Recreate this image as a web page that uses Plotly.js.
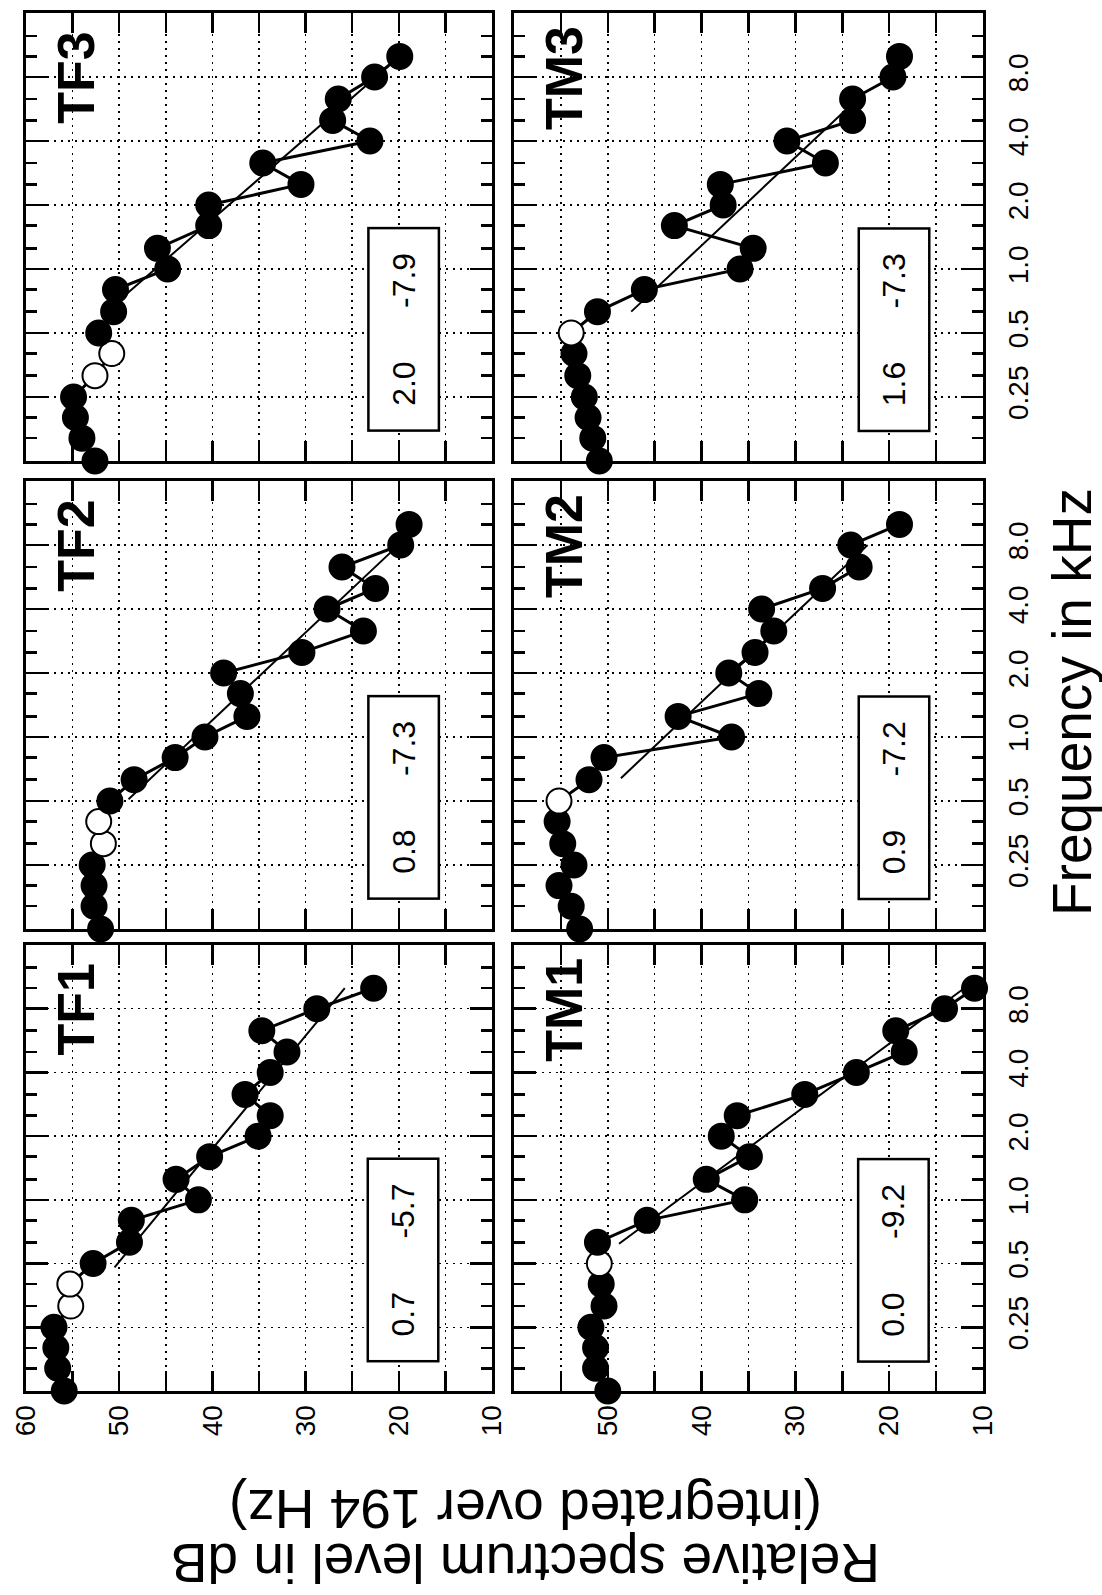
<!DOCTYPE html>
<html><head><meta charset="utf-8">
<script src="https://cdn.plot.ly/plotly-3.0.1.min.js"></script>
<style>html,body{margin:0;padding:0;background:#fff}#chart{width:1102px;height:1595px}</style>
</head><body><div id="chart"></div>
<script>
// 1/3-octave band centre frequencies (kHz)
const freqKHz = [0.125,0.16,0.2,0.25,0.315,0.4,0.5,0.63,0.8,1.0,1.25,1.6,2.0,2.5,3.15,4.0,5.0,6.3,8.0,10.0];

const panelNames = ['TF3','TM3','TF2','TM2','TF1','TM1'];

// relative spectrum level (dB) per band
const levelTF3 = [52.6,54.0,54.7,54.9,52.6,50.8,52.2,50.6,50.4,44.8,45.9,40.4,40.4,30.5,34.6,23.1,27.1,26.5,22.6,19.9];
const levelTM3 = [50.9,51.6,52.1,52.5,53.2,53.6,53.9,51.1,46.1,35.9,34.5,42.9,37.7,38.0,26.8,30.9,23.9,23.9,19.6,18.9];
const levelTF2 = [52.0,52.7,52.7,52.9,51.7,52.2,51.0,48.4,44.0,40.8,36.3,37.0,38.8,30.4,23.8,27.7,22.5,26.1,19.8,18.9];
const levelTM2 = [53.0,53.9,55.2,53.6,54.8,55.4,55.2,52.0,50.4,36.8,42.5,33.9,37.1,34.3,32.3,33.6,27.1,23.2,24.1,18.9];
const levelTF1 = [55.9,56.6,56.8,57.0,55.2,55.3,52.8,48.9,48.7,41.5,43.9,40.3,35.1,33.8,36.5,33.8,32.0,34.7,28.8,22.7];
const levelTM1 = [50.0,51.3,51.3,51.8,50.4,50.7,50.9,51.1,45.8,35.4,39.5,34.9,37.9,36.2,29.0,23.5,18.4,19.3,14.1,10.9];

// band indices drawn as open circles
const openTF3 = [4,5];
const openTM3 = [6];
const openTF2 = [4,5];
const openTM2 = [6];
const openTF1 = [4,5];
const openTM1 = [6];

// regression line end points (kHz, dB)
const fitFreqTF3 = [0.70, 9.0];  const fitLevelTF3 = [50.2, 21.1];
const fitFreqTM3 = [0.63, 5.4];  const fitLevelTM3 = [47.5, 25.0];
const fitFreqTF2 = [0.51, 9.0];  const fitLevelTF2 = [49.0, 18.8];
const fitFreqTM2 = [0.64, 8.0];  const fitLevelTM2 = [48.6, 22.3];
const fitFreqTF1 = [0.48, 10.0]; const fitLevelTF1 = [50.5, 25.8];
const fitFreqTM1 = [0.62, 10.0]; const fitLevelTM1 = [48.8, 12.0];

// numbers in the boxes
const boxFirst = ['2.0','1.6','0.8','0.9','0.7','0.0'];
const boxSlope = ['-7.9','-7.3','-7.3','-7.2','-5.7','-9.2'];

// tick labels
const dbTickVals = [60,55,50,45,40,35,30,25,20,15,10];
const dbTickTextTF = ['60','','50','','40','','30','','20','','10'];
const dbTickTextTM = ['','','50','','40','','30','','20','','10'];
const freqTickVals = [0.25,0.5,1,2,4,8];
const freqTickText = ['0.25','0.5','1.0','2.0','4.0','8.0'];
const freqMinorVals = [0.16,0.2,0.315,0.4,0.63,0.8,1.25,1.6,2.5,3.15,5,6.3,10,12.5];

const levels = [levelTF3, levelTM3, levelTF2, levelTM2, levelTF1, levelTM1];
const opens = [openTF3, openTM3, openTF2, openTM2, openTF1, openTM1];
const fitF = [fitFreqTF3, fitFreqTM3, fitFreqTF2, fitFreqTM2, fitFreqTF1, fitFreqTM1];
const fitL = [fitLevelTF3, fitLevelTM3, fitLevelTF2, fitLevelTM2, fitLevelTF1, fitLevelTM1];

const FONT = 'Liberation Sans, Arial, Helvetica, sans-serif';
const colDom = [[0.0236, 0.4465], [0.4664, 0.8920]];
const rowDom = [[0.7110, 0.99185], [0.41755, 0.69843], [0.12790, 0.40752]];

const traces = [];
const layout = {
  width: 1102, height: 1595,
  margin: {l: 0, r: 0, t: 0, b: 0},
  paper_bgcolor: '#fff', plot_bgcolor: '#fff',
  showlegend: false,
  font: {family: FONT, color: '#000'},
  annotations: []
};

const nb = '\u00A0';
for (let i = 0; i < 6; i++) {
  const row = Math.floor(i / 2), col = i % 2;
  const id = i === 0 ? '' : String(i + 1);
  const xa = 'x' + id, ya = 'y' + id;

  traces.push({
    type: 'scatter', mode: 'lines', x: fitL[i], y: fitF[i],
    xaxis: xa, yaxis: ya, line: {color: '#000', width: 2}, hoverinfo: 'skip'
  });
  const fill = freqKHz.map((f, k) => opens[i].includes(k) ? '#fff' : '#000');
  traces.push({
    type: 'scatter', mode: 'lines+markers', x: levels[i], y: freqKHz,
    xaxis: xa, yaxis: ya, cliponaxis: false,
    line: {color: '#000', width: 3},
    marker: {size: 25, color: fill, line: {color: '#000', width: 2}}
  });

  layout['xaxis' + id] = {
    domain: colDom[col], anchor: ya, range: [60, 10],
    tickmode: 'array', tickvals: dbTickVals,
    ticktext: col === 0 ? dbTickTextTF : dbTickTextTM,
    showticklabels: row === 2, tickangle: -90, ticklabelstandoff: 0,
    tickfont: {size: 28, family: FONT, color: '#000'},
    ticks: 'inside', ticklen: 20, tickwidth: 2.5, tickcolor: '#000',
    showline: true, linewidth: 3, linecolor: '#000', mirror: 'ticks',
    showgrid: true, gridcolor: '#000', gridwidth: 1.5, griddash: '2px,5px',
    zeroline: false, fixedrange: true
  };
  layout['yaxis' + id] = {
    domain: rowDom[row], anchor: xa, type: 'log',
    range: [Math.log10(0.125), Math.log10(16)],
    tickmode: 'array', tickvals: freqTickVals, ticktext: freqTickText,
    showticklabels: col === 1, side: col === 1 ? 'right' : 'left',
    tickangle: -90, ticklabelstandoff: 8,
    tickfont: {size: 28, family: FONT, color: '#000'},
    ticks: 'inside', ticklen: 22, tickwidth: 2.5, tickcolor: '#000',
    minor: {tickmode: 'array', tickvals: freqMinorVals, ticks: 'inside', ticklen: 11, tickwidth: 2.5, tickcolor: '#000', showgrid: false},
    showline: true, linewidth: 3, linecolor: '#000', mirror: 'ticks',
    showgrid: true, gridcolor: '#000', gridwidth: 1.5, griddash: '2px,5px',
    zeroline: false, fixedrange: true
  };

  layout.annotations.push({
    xref: xa + ' domain', yref: ya + ' domain', x: 0.107, y: 0.855,
    text: '<b>' + panelNames[i] + '</b>', textangle: -90, showarrow: false,
    xanchor: 'center', yanchor: 'middle',
    font: {size: 52, family: FONT, color: '#000'}
  });
  layout.annotations.push({
    xref: xa, yref: ya, x: 19.5, y: Math.log10(0.52),
    text: boxFirst[i] + nb.repeat(6) + boxSlope[i], textangle: -90, showarrow: false,
    xanchor: 'center', yanchor: 'middle', width: 200, height: 68,
    bgcolor: '#fff', bordercolor: '#000', borderwidth: 2.5, borderpad: 0,
    font: {size: 32, family: FONT, color: '#000'}
  });
}

layout.annotations.push({
  xref: 'paper', yref: 'paper', x: 1072 / 1102, y: 1 - 702 / 1595,
  text: 'Frequency in kHz', textangle: -90, showarrow: false,
  xanchor: 'center', yanchor: 'middle', font: {size: 55, family: FONT, color: '#000'}
});
layout.annotations.push({
  xref: 'paper', yref: 'paper', x: 526 / 1102, y: 1 - 1509 / 1595,
  text: '(integrated over 194 Hz)', textangle: 180, showarrow: false,
  xanchor: 'center', yanchor: 'middle', font: {size: 55, family: FONT, color: '#000'}
});
layout.annotations.push({
  xref: 'paper', yref: 'paper', x: 526 / 1102, y: 1 - 1563 / 1595,
  text: 'Relative spectrum level in dB', textangle: 180, showarrow: false,
  xanchor: 'center', yanchor: 'middle', font: {size: 55, family: FONT, color: '#000'}
});

Plotly.newPlot('chart', traces, layout, {staticPlot: true, displayModeBar: false});
</script>
</body></html>
